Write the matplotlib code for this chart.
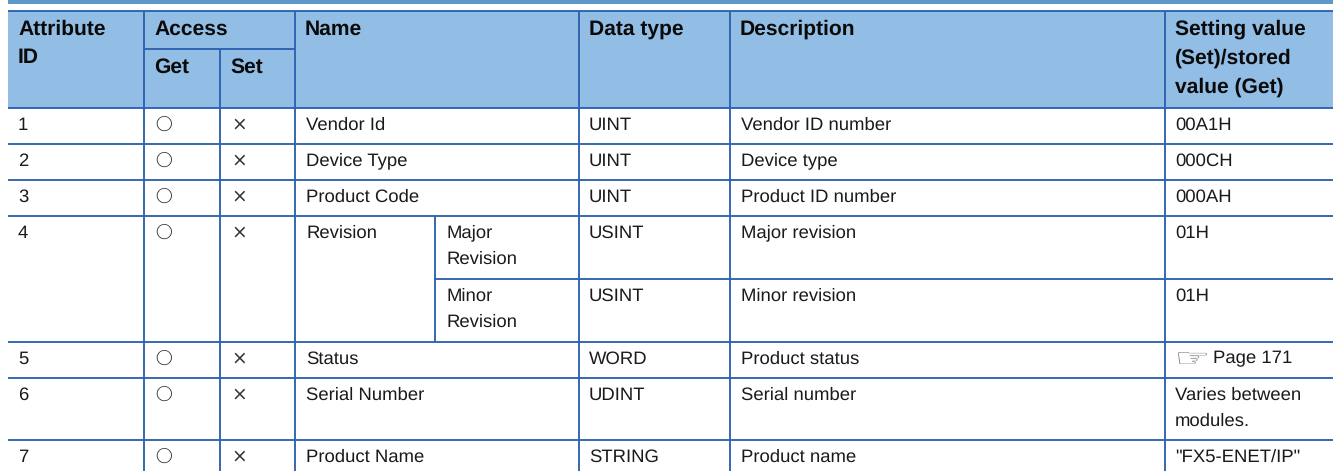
"""
draw the attribute table
"""
import matplotlib.pyplot as plt
from matplotlib.patches import PathPatch
from matplotlib.textpath import TextPath
from matplotlib.font_manager import FontProperties
from matplotlib.transforms import Affine2D

plt.rcParams["font.family"] = ["Liberation Sans", "DejaVu Sans"]
plt.rcParams["text.hinting"] = "no_hinting"

WIDTH, HEIGHT = 1333, 471
HEADER_BLUE = "#92BDE4"
LINE_BLUE = "#2D62B0"
TEXT_COLOR = "#1A1A1A"

# row edges of the table body, the split under Major Revision is drawn apart
row_edges = [108, 144, 180, 216, 279, 342, 378, 440]

header_cells = [
    (8, 11, "Attribute\nID"),
    (144, 11, "Access"),
    (144, 49, "Get"),
    (220, 49, "Set"),
    (295, 11, "Name"),
    (579, 11, "Data type"),
    (730, 11, "Description"),
    (1165, 11, "Setting value\n(Set)/stored\nvalue (Get)"),
]

attribute_ids = ["1", "2", "3", "4", "", "5", "6", "7"]
get_marks = ["○", "○", "○", "○", "", "○", "○", "○"]
set_marks = ["×", "×", "×", "×", "", "×", "×", "×"]
names = [
    "Vendor Id",
    "Device Type",
    "Product Code",
    "Revision",
    "",
    "Status",
    "Serial Number",
    "Product Name",
]
sub_names = ["", "", "", "Major\nRevision", "Minor\nRevision", "", "", ""]
data_types = ["UINT", "UINT", "UINT", "USINT", "USINT", "WORD", "UDINT", "STRING"]
descriptions = [
    "Vendor ID number",
    "Device type",
    "Product ID number",
    "Major revision",
    "Minor revision",
    "Product status",
    "Serial number",
    "Product name",
]
values = [
    "00A1H",
    "000CH",
    "000AH",
    "01H",
    "01H",
    "Page 171",
    "Varies between\nmodules.",
    '"FX5-ENET/IP"',
]


def put_text(ax, x, y, text, **kwargs):
    """Top left anchored cell text"""
    kwargs.setdefault("fontsize", 13.3)
    kwargs.setdefault("color", TEXT_COLOR)
    kwargs.setdefault("linespacing", 1.7)
    ax.text(x, y, text, ha="left", va="top", **kwargs)


def draw_grid(ax):
    """Header fill and all the rule lines"""
    ax.fill_between([8, WIDTH], 11, 108, color=HEADER_BLUE, lw=0)
    ax.fill_between([8, WIDTH], 0, 3.5, color="#5F98C8", lw=0)

    line = dict(color=LINE_BLUE, lw=1.35, solid_capstyle="butt")
    for y in [11] + row_edges:
        # the split between the revisions only starts at the sub name column
        left = 435 if y == 279 else 8
        ax.plot([left, WIDTH], [y, y], **line)
    ax.plot([144, 295], [49, 49], **line)

    for x in [144, 295, 579, 730, 1165]:
        ax.plot([x, x], [11, HEIGHT], **line)
    ax.plot([220, 220], [49, HEIGHT], **line)
    ax.plot([435, 435], [216, 342], **line)


def draw_hand(ax, left, right, top, bottom):
    """The page reference hand, squashed into a flat box like the original icon"""
    path = TextPath((0, 0), "☞", size=20, prop=FontProperties(family="DejaVu Sans"))
    box = path.get_extents()
    to_box = (
        Affine2D()
        .translate(-box.x0, -box.y0)
        .scale((right - left) / box.width, (top - bottom) / box.height)
        .translate(left, bottom)
    )
    ax.add_patch(PathPatch(path, transform=to_box + ax.transData, fc="#808080", lw=0))


def main():
    fig = plt.figure(figsize=(WIDTH / 100, HEIGHT / 100), dpi=100)
    ax = fig.add_axes([0, 0, 1, 1])
    ax.set_xlim(0, WIDTH)
    ax.set_ylim(HEIGHT, 0)
    ax.axis("off")

    draw_grid(ax)

    for x, y, text in header_cells:
        put_text(ax, x + 10, y + 8.5, text, fontsize=15.1, fontweight="bold", color="#0A0A0A", linespacing=1.6)

    for i in range(len(attribute_ids)):
        top = row_edges[i] + 8.5
        put_text(ax, 18, top, attribute_ids[i])
        if get_marks[i]:
            ax.text(163.5, top + 8.5, get_marks[i], ha="center", va="center", fontsize=12, color="#333333", family="Noto Sans CJK JP")
            ax.text(239.5, top + 8, set_marks[i], ha="center", va="center", fontsize=13.5, color="#333333", family="DejaVu Sans")
        put_text(ax, 306, top, names[i])
        put_text(ax, 446, top, sub_names[i])
        put_text(ax, 589, top, data_types[i])
        put_text(ax, 741, top, descriptions[i])
        if values[i].startswith("Page"):
            draw_hand(ax, 1178, 1207, 352, 364)
            put_text(ax, 1213, top, values[i])
        else:
            put_text(ax, 1175, top, values[i])

    fig.savefig("out.png", dpi=100)


if __name__ == "__main__":
    main()
